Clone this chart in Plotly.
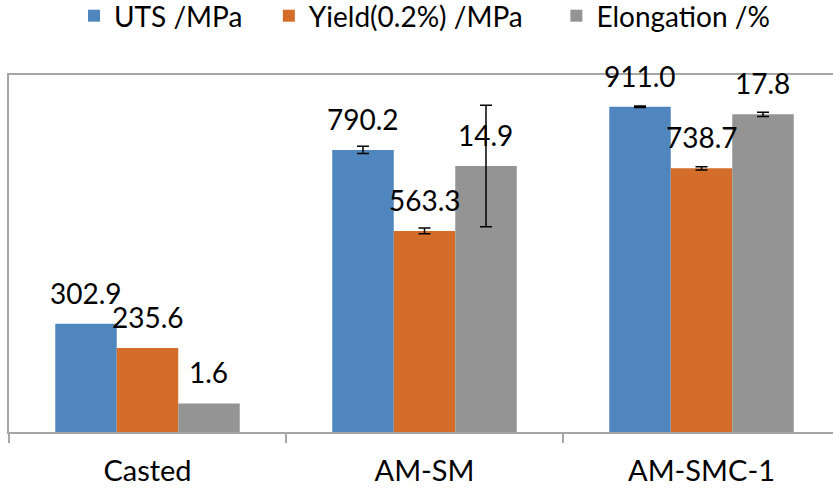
import plotly.graph_objects as go

categories = ["Casted", "AM-SM", "AM-SMC-1"]
uts = [302.9, 790.2, 911.0]
uts_err = [None, 10, 2]
yield_02 = [235.6, 563.3, 738.7]
yield_err = [None, 8, 4.5]
elong = [1.6, 14.9, 17.8]
elong_err = [None, 3.4, 0.12]
series_names = ["UTS /MPa", "Yield(0.2%) /MPa", "Elongation /%"]
labels_fmt = "{:.1f}"

# figure slightly wider than the 833 px window: the plot area continues past
# the right edge, as in the (cropped) reference
W, H = 845, 488
ML, MR, MT, MB = 9, 0, 75, 56
CAT_PX = 277.0
BARGAP = 0.334
plot_w = W - ML - MR
plot_h = H - MT - MB
x_range = [-0.5, -0.5 + plot_w / CAT_PX]
bar_px = CAT_PX * (1 - BARGAP) / 3

FONT = "Lato, 'Open Sans', sans-serif"
blue, orange, gray = "#4F86BD", "#D46D2A", "#949494"
axis_gray = "#A6A6A6"
PADS = ["\u00a0" * 3, "\u00a0" * 4, ""]


def err_list(errs):
    # missing error values -> no error bar drawn
    return ["NaN" if e is None else e for e in errs]


fig = go.Figure()
series = [
    (series_names[0], uts, uts_err, blue, "y", "1"),
    (series_names[1], yield_02, yield_err, orange, "y", "2"),
    (series_names[2], elong, elong_err, gray, "y2", "3"),
]
for k, (name, vals, errs, col, yax, og) in enumerate(series):
    fig.add_trace(go.Bar(
        x=categories, y=vals, name=name + PADS[k],
        marker=dict(color=col, line=dict(width=0)),
        yaxis=yax, offsetgroup=og,
        error_y=dict(type="data", array=err_list(errs), visible=True, color="black",
                     thickness=1.5, width=6),
    ))

annotations = []
for i, (name, vals, errs, col, yax, og) in enumerate(series):
    for c, v in zip(categories, vals):
        annotations.append(dict(
            x=c, y=v, xref="x", yref=yax, text=labels_fmt.format(v),
            showarrow=False, xanchor="center", yanchor="bottom",
            xshift=(i - 1) * bar_px, yshift=12,
            font=dict(family=FONT, size=28, color="black"),
        ))

fig.update_layout(
    width=W, height=H,
    margin=dict(l=ML, r=MR, t=MT, b=MB, pad=0, autoexpand=False),
    paper_bgcolor="white", plot_bgcolor="white",
    barmode="group", bargap=BARGAP, bargroupgap=0,
    font=dict(family=FONT, size=28, color="black"),
    showlegend=True,
    legend=dict(orientation="h", x=74 / W, xanchor="left", xref="container",
                y=1 + 84 / plot_h, yanchor="top", yref="paper",
                font=dict(family=FONT, size=28, color="black"),
                itemwidth=30, traceorder="normal"),
    xaxis=dict(type="category", range=x_range, showline=True, linecolor=axis_gray,
               linewidth=1.5, mirror=True, ticks="outside", ticklen=9,
               tickcolor=axis_gray, tickwidth=1.5, tickson="boundaries",
               showgrid=False, zeroline=False,
               tickfont=dict(family=FONT, size=29, color="black"),
               ticklabelstandoff=12),
    yaxis=dict(range=[0, 1000], showline=True, mirror=False, linecolor=axis_gray,
               linewidth=1.5, showgrid=False, zeroline=False, showticklabels=False,
               ticks=""),
    yaxis2=dict(range=[0, 20], overlaying="y", side="right", visible=False,
                showline=False, showgrid=False, zeroline=False,
                showticklabels=False, ticks=""),
    annotations=annotations,
)

fig.write_html("out.html", config={"displayModeBar": False},
               post_script="document.body.style.margin='0';document.body.style.overflow='hidden';")
